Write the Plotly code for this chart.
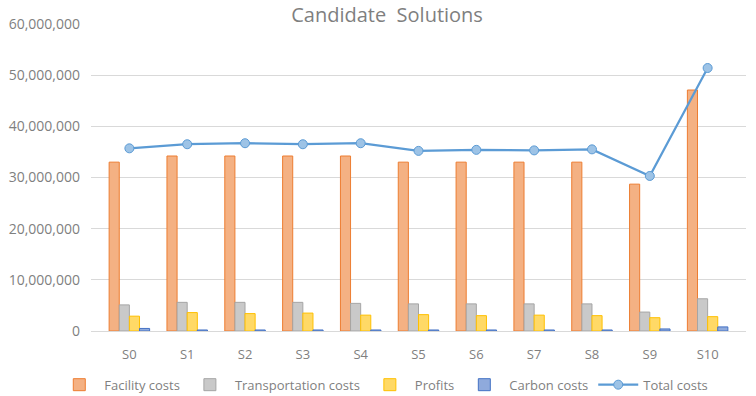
import plotly.graph_objects as go

categories = ["S0", "S1", "S2", "S3", "S4", "S5", "S6", "S7", "S8", "S9", "S10"]
facility_costs = [33.0e6, 34.2e6, 34.2e6, 34.2e6, 34.2e6, 33.0e6, 33.0e6, 33.0e6, 33.0e6, 28.7e6, 47.1e6]
transportation_costs = [5.1e6, 5.6e6, 5.6e6, 5.6e6, 5.4e6, 5.3e6, 5.3e6, 5.3e6, 5.3e6, 3.7e6, 6.3e6]
profits = [2.9e6, 3.6e6, 3.4e6, 3.5e6, 3.1e6, 3.2e6, 3.0e6, 3.1e6, 3.0e6, 2.6e6, 2.8e6]
carbon_costs = [0.5e6, 0.2e6, 0.2e6, 0.2e6, 0.2e6, 0.2e6, 0.2e6, 0.2e6, 0.2e6, 0.4e6, 0.8e6]
total_costs = [35.7e6, 36.5e6, 36.7e6, 36.5e6, 36.7e6, 35.2e6, 35.4e6, 35.3e6, 35.5e6, 30.3e6, 51.4e6]
y_ticks = [0, 10e6, 20e6, 30e6, 40e6, 50e6, 60e6]
y_tick_labels = ["0", "10,000,000", "20,000,000", "30,000,000", "40,000,000", "50,000,000", "60,000,000"]

fig = go.Figure()
bar_specs = [
    ("Facility costs", facility_costs, "#F4B183", "#ED7D31"),
    ("Transportation costs", transportation_costs, "#C9C9C9", "#A5A5A5"),
    ("Profits", profits, "#FFD966", "#FFC000"),
    ("Carbon costs", carbon_costs, "#8FAADC", "#4472C4"),
]
for name, vals, fill, line in bar_specs:
    fig.add_trace(go.Bar(x=categories, y=vals, name=name,
                         marker=dict(color=fill, line=dict(color=line, width=1))))

fig.add_trace(go.Scatter(x=categories, y=total_costs, name="Total costs", mode="lines+markers",
                         line=dict(color="#5B9BD5", width=2.25),
                         marker=dict(size=9, color="#9DC3E6", line=dict(color="#5B9BD5", width=1))))

fig.update_layout(
    width=756, height=396,
    margin=dict(l=91, r=10, t=24, b=65, autoexpand=False),
    paper_bgcolor="white", plot_bgcolor="white",
    font=dict(family="Open Sans", size=13, color="#7F7F7F"),
    title=dict(text="Candidate  Solutions", x=0.512, xanchor="center", xref="container",
               y=0.962, yanchor="middle",
               font=dict(family="Open Sans", size=20, color="#7F7F7F")),
    barmode="group", bargap=0.3, bargroupgap=0.0,
    showlegend=True,
    legend=dict(orientation="h", x=0.447, xanchor="center", y=-0.175, yanchor="middle",
                font=dict(size=13, color="#7F7F7F"), traceorder="normal",
                itemwidth=40),
)
fig.update_xaxes(showgrid=False, showline=True, linecolor="#D9D9D9", ticks="",
                 ticklabelstandoff=11, tickfont=dict(size=13, color="#7F7F7F"))
fig.update_yaxes(range=[0, 60e6], tickvals=y_ticks, ticktext=y_tick_labels,
                 showgrid=True, gridcolor="#D9D9D9", gridwidth=1, zeroline=False,
                 ticks="", ticklabelstandoff=10, tickfont=dict(size=14, color="#7F7F7F"))

fig.write_html("out.html")
